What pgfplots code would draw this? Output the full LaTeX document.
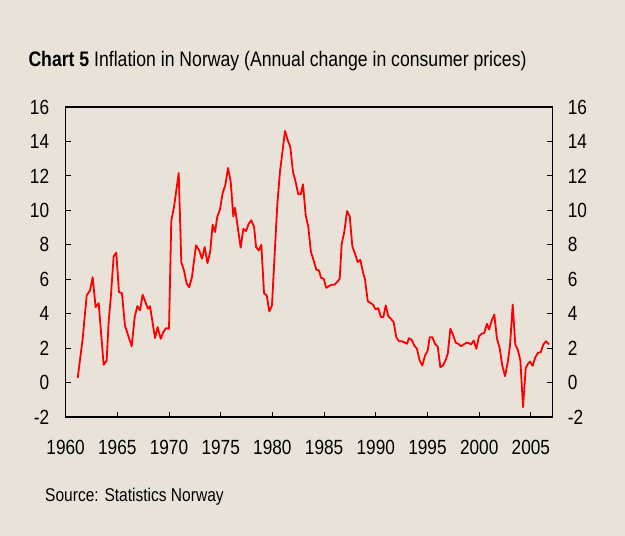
\documentclass[border=0pt]{standalone}
\usepackage{fontspec}
\setmainfont{Liberation Sans}[FakeStretch=0.84]
\usepackage{pgfplots}
\pgfplotsset{compat=1.18}
\definecolor{bg}{HTML}{E8E2D9}
\pgfplotstableread{
year val
1961.17 0.27
1961.65 2.54
1962.04 5.06
1962.36 5.35
1962.62 6.12
1962.90 4.38
1963.20 4.61
1963.68 1.03
1963.97 1.28
1964.17 3.60
1964.36 4.87
1964.65 7.33
1964.90 7.54
1965.16 5.25
1965.45 5.19
1965.74 3.31
1966.39 2.11
1966.68 3.80
1966.94 4.44
1967.20 4.19
1967.45 5.10
1967.97 4.28
1968.16 4.44
1968.65 2.58
1968.90 3.22
1969.20 2.54
1969.45 2.93
1969.71 3.16
1970.00 3.12
1970.22 9.38
1970.48 10.19
1970.94 12.17
1971.19 6.99
1971.45 6.51
1971.71 5.74
1971.96 5.54
1972.22 6.12
1972.61 7.97
1972.93 7.67
1973.19 7.19
1973.45 7.87
1973.72 6.94
1973.98 7.58
1974.22 9.17
1974.45 8.74
1974.67 9.63
1974.93 10.05
1975.19 11.01
1975.44 11.45
1975.71 12.46
1975.97 11.65
1976.22 9.65
1976.38 10.15
1976.93 7.83
1977.19 8.93
1977.45 8.80
1977.71 9.22
1977.96 9.42
1978.23 9.03
1978.42 7.87
1978.68 7.67
1978.93 8.00
1979.19 5.19
1979.45 5.06
1979.70 4.13
1979.96 4.48
1980.22 7.48
1980.47 10.29
1980.73 12.23
1981.22 14.61
1981.48 14.07
1981.73 13.68
1981.99 12.23
1982.25 11.65
1982.50 10.93
1982.74 10.93
1982.96 11.51
1983.22 9.71
1983.47 9.03
1983.73 7.58
1983.99 7.09
1984.25 6.55
1984.51 6.51
1984.70 6.08
1984.96 6.03
1985.21 5.50
1985.47 5.60
1985.74 5.68
1985.99 5.68
1986.25 5.83
1986.51 6.03
1986.70 8.06
1986.95 8.74
1987.22 9.96
1987.48 9.65
1987.73 7.91
1987.99 7.48
1988.25 6.99
1988.50 7.13
1988.76 6.41
1988.96 5.97
1989.22 4.73
1989.47 4.63
1989.73 4.52
1989.99 4.24
1990.24 4.32
1990.50 3.80
1990.73 3.80
1990.96 4.48
1991.21 3.84
1991.47 3.70
1991.73 3.50
1991.98 2.63
1992.24 2.40
1992.50 2.40
1992.75 2.34
1993.02 2.25
1993.21 2.58
1993.47 2.48
1993.72 2.15
1993.98 1.96
1994.24 1.28
1994.50 0.99
1994.76 1.57
1995.02 1.86
1995.21 2.63
1995.47 2.63
1995.73 2.25
1995.99 2.09
1996.24 0.89
1996.50 0.99
1996.76 1.32
1996.96 1.67
1997.21 3.12
1997.47 2.77
1997.73 2.31
1997.98 2.25
1998.24 2.11
1998.50 2.21
1998.75 2.31
1999.01 2.29
1999.21 2.21
1999.47 2.44
1999.72 1.96
1999.98 2.69
2000.24 2.83
2000.49 2.89
2000.75 3.41
2000.95 3.08
2001.21 3.60
2001.46 3.95
2001.72 2.54
2001.98 2.00
2002.23 0.99
2002.50 0.37
2002.76 1.18
2002.98 2.15
2003.24 4.53
2003.49 2.21
2003.73 1.90
2003.98 1.28
2004.24 -1.43
2004.50 0.85
2004.75 1.12
2004.91 1.22
2005.17 0.97
2005.43 1.47
2005.69 1.73
2005.95 1.76
2006.20 2.21
2006.46 2.40
2006.75 2.21
}\cpi
\begin{document}
\fontsize{21}{25}\selectfont
\begin{tikzpicture}
\fill[bg] (0pt,0pt) rectangle (625pt,536pt);
\node[anchor=base west, inner sep=0pt] at (28.3pt,469.3pt) {\textbf{Chart 5} Inflation in Norway (Annual change in consumer prices)};
\node[anchor=base west, inner sep=0pt, font=\fontsize{18.5}{22}\selectfont] at (45pt,34.3pt) {Source: Statistics Norway};
\pgfplotsset{
  base/.style={
    at={(65.6pt,119pt)}, anchor=south west, scale only axis,
    width=486.7pt, height=310pt,
    xmin=1960, xmax=2007.07, ymin=-2, ymax=16,
    ytick={-2,0,...,16},
    tick align=inside, major tick length=5pt,
    axis line style={black, line width=1.2pt},
    tick style={black, line width=0.9pt},
    /pgf/number format/assume math mode=true,
    tick label style={inner sep=0pt, font=\fontsize{20.5}{24}\selectfont},
  }
}
\begin{axis}[base,
  xtick={1960,1965,...,2005},
  xticklabels={1960,1965,1970,1975,1980,1985,1990,1995,2000,2005},
  xtick pos=bottom,
  ytick pos=both, yticklabel pos=left,
  xticklabel style={anchor=north, yshift=-23pt},
  yticklabel style={anchor=east, xshift=-16.3pt},
]
\addplot[color=red, line width=1.8pt, line join=round] table[x=year,y=val] {\cpi};
\end{axis}
\begin{axis}[base,
  xtick=\empty,
  ytick pos=right, yticklabel pos=right,
  yticklabel style={anchor=west, xshift=15.4pt},
]
\end{axis}
\end{tikzpicture}
\end{document}
